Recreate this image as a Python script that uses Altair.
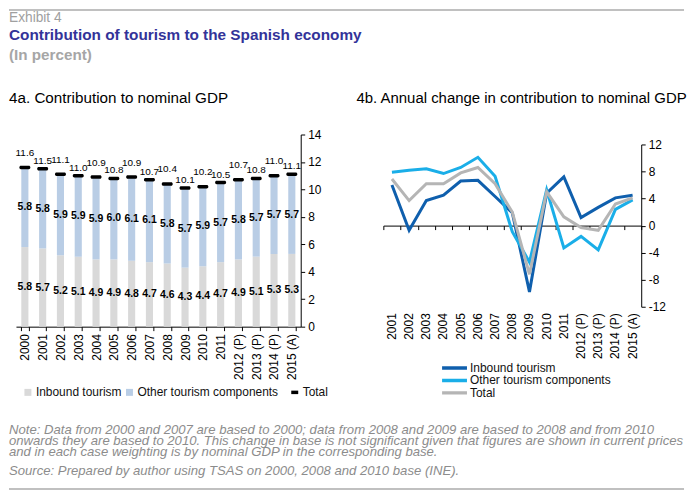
import altair as alt
import pandas as pd

FONT = "Liberation Sans"

# ---------------- data ----------------
years_bar = ["2000", "2001", "2002", "2003", "2004", "2005", "2006", "2007",
             "2008", "2009", "2010", "2011", "2012 (P)", "2013 (P)", "2014 (P)", "2015 (A)"]
inbound = [5.8, 5.7, 5.2, 5.1, 4.9, 4.9, 4.8, 4.7, 4.6, 4.3, 4.4, 4.7, 4.9, 5.1, 5.3, 5.3]
other = [5.8, 5.8, 5.9, 5.9, 5.9, 6.0, 6.1, 6.1, 5.8, 5.7, 5.9, 5.7, 5.8, 5.7, 5.7, 5.7]
total = [11.6, 11.5, 11.1, 11.0, 10.9, 10.8, 10.9, 10.7, 10.4, 10.1, 10.2, 10.5, 10.7, 10.8, 11.0, 11.1]

years_line = ["2001", "2002", "2003", "2004", "2005", "2006", "2007", "2008",
              "2009", "2010", "2011", "2012 (P)", "2013 (P)", "2014 (P)", "2015 (A)"]
inbound_chg = [6.0, -0.7, 3.7, 4.5, 6.6, 6.7, 4.3, 1.9, -9.8, 4.8, 7.2, 1.2, 2.7, 4.1, 4.5]
other_chg = [7.9, 8.2, 8.4, 7.7, 8.6, 10.1, 7.3, -0.9, -5.4, 5.3, -3.3, -1.6, -3.6, 2.4, 3.8]
total_chg = [6.9, 3.7, 6.2, 6.2, 7.8, 8.6, 6.2, 2.0, -7.2, 5.0, 1.3, -0.3, -0.7, 3.2, 4.1]

series_bar = ["Inbound tourism", "Other tourism components"]
series_line = ["Inbound tourism", "Other tourism components", "Total"]
bar_colors = ["#d9d9d9", "#b9cde5"]
line_colors = ["#0f5fad", "#1aaee8", "#b5b5b5"]

bar_ticks = [0, 2, 4, 6, 8, 10, 12, 14]
line_ticks = [-12, -8, -4, 0, 4, 8, 12]

title_lines = ["Exhibit 4", "Contribution of tourism to the Spanish economy", "(In percent)"]
panel_titles = ["4a. Contribution to nominal GDP", "4b. Annual change in contribution to nominal GDP"]
notes = [
    "Note: Data from 2000 and 2007 are based to 2000; data from 2008 and 2009 are based to 2008 and from 2010",
    "onwards they are based to 2010. This change in base is not significant given that figures are shown in current prices",
    "and in each case weighting is by nominal GDP in the corresponding base.",
]
source = "Source: Prepared by author using TSAS on 2000, 2008 and 2010 base (INE)."

# ---------------- tables ----------------
n = len(years_bar)
bar_long = pd.DataFrame({
    "yr": years_bar * 2,
    "series": [series_bar[0]] * n + [series_bar[1]] * n,
    "order": [0] * n + [1] * n,
    "pct": inbound + other,
})
tot_df = pd.DataFrame({"yr": years_bar, "total": total, "s": ["Total"] * n})

m = len(years_line)
line_long = pd.DataFrame({
    "period": years_line * 3,
    "component": [series_line[0]] * m + [series_line[1]] * m + [series_line[2]] * m,
    "chg": inbound_chg + other_chg + total_chg,
})
one = pd.DataFrame({"a": [0]})

# ---------------- bar panel ----------------
x_bar_scale = alt.Scale(type="band", paddingInner=0.6, paddingOuter=0.3)
x_bar_axis = alt.Axis(title=None, labelAngle=-90, labelFontSize=12, labelColor="#000",
                      tickBand="extent", tickSize=4, tickColor="#000", domainColor="#000",
                      labelPadding=3)
y_bar_scale = alt.Scale(domain=[0, 14], nice=False)
y_bar_axis = alt.Axis(orient="right", values=bar_ticks, title=None, grid=False,
                      tickSize=4, labelFontSize=12, labelColor="#000", domainColor="#000",
                      tickColor="#000", labelPadding=3, labelOverlap=False)


def xb():
    return alt.X("yr:N", sort=years_bar, scale=x_bar_scale, axis=x_bar_axis)


def yb(field, **kw):
    return alt.Y(field, scale=y_bar_scale, axis=y_bar_axis, **kw)


bars = alt.Chart(bar_long).mark_bar().encode(
    x=xb(),
    y=yb("pct:Q", stack="zero"),
    color=alt.Color("series:N", scale=alt.Scale(domain=series_bar, range=bar_colors),
                    legend=alt.Legend(orient="none", legendX=6, legendY=253, direction="horizontal",
                                      title=None, symbolType="square", symbolSize=49,
                                      symbolStrokeWidth=0, labelFontSize=12, labelColor="#111",
                                      labelOffset=2, columnPadding=1, padding=0)),
    order=alt.Order("order:Q"),
)

seg_labels = alt.Chart(bar_long).transform_stack(
    stack="pct", as_=["v0", "v1"], groupby=["yr"],
    sort=[alt.SortField("order", order="ascending")]
).transform_calculate(mid="(datum.v0 + datum.v1) / 2").mark_text(
    fontSize=10.5, fontWeight="bold", color="#000", font=FONT
).encode(
    x=xb(),
    y=yb("mid:Q"),
    text=alt.Text("pct:Q", format=".1f"),
)

tot_ticks = alt.Chart(tot_df).mark_tick(fill="black", thickness=3.5, size=11, cornerRadius=1.5,
                                         strokeWidth=0, opacity=1).encode(
    x=xb(),
    y=yb("total:Q"),
    stroke=alt.Stroke("s:N", scale=alt.Scale(domain=["Total"], range=["black"]),
                      legend=alt.Legend(orient="none", legendX=274, legendY=253, title=None,
                                        symbolType="stroke", symbolSize=49, symbolStrokeWidth=3.5,
                                        labelFontSize=12, labelColor="#111", labelOffset=2,
                                        padding=0)),
)


def tot_text(parity, dy):
    return alt.Chart(tot_df).transform_window(idx="row_number()").transform_filter(
        f"datum.idx % 2 == {parity}"
    ).mark_text(fontSize=10, color="#000", dy=dy, font=FONT).encode(
        x=xb(),
        y=yb("total:Q"),
        text=alt.Text("total:Q", format=".1f"),
    )


def txt(s, x, y, size, color, weight="normal", style="normal"):
    return alt.Chart(one).mark_text(text=s, align="left", baseline="alphabetic", fontSize=size,
                                    color=color, fontWeight=weight, fontStyle=style, font=FONT).encode(
        x=alt.value(x), y=alt.value(y))


def hrule(y):
    return alt.Chart(one).mark_rule(color="#c0c0c0", strokeWidth=2).encode(
        x=alt.value(-7), x2=alt.value(671), y=alt.value(y))


# header / footer texts, placed relative to the bar panel's plot origin
header_footer = [
    hrule(-125),
    txt(title_lines[0], -7, -113.3, 13.8, "#a0a0a0"),
    txt(title_lines[1], -7, -95, 15.4, "#333399", weight="bold"),
    txt(title_lines[2], -7, -74.7, 15.3, "#a6a6a6", weight="bold"),
    txt(panel_titles[0], -7, -31.7, 15.3, "#000"),
    txt(panel_titles[1], 342, -31.7, 15, "#000"),
    txt(notes[0], -7, 301, 13.2, "#8c8c8c", style="italic"),
    txt(notes[1], -7, 312, 13.2, "#8c8c8c", style="italic"),
    txt(notes[2], -7, 322.5, 13.2, "#8c8c8c", style="italic"),
    txt(source, -7, 342, 13.2, "#8c8c8c", style="italic"),
    hrule(356),
]

bar_panel = alt.layer(bars, seg_labels, tot_ticks, tot_text(1, -14.5), tot_text(0, -8),
                      *header_footer).properties(width=286, height=193)

# ---------------- line panel ----------------
x_line_scale = alt.Scale(type="band", paddingInner=0, paddingOuter=0)
y_line_scale = alt.Scale(domain=[-12, 12], nice=False, range=[173, 10])
y_line_axis = alt.Axis(orient="right", values=line_ticks, title=None, grid=False,
                       tickSize=4, labelFontSize=12, labelColor="#000", domainColor="#000",
                       tickColor="#000", labelPadding=3, labelOverlap=False,
                       labelExpr="toString(datum.value)")

lines = alt.Chart(line_long).mark_line(strokeWidth=3).encode(
    x=alt.X("period:N", sort=years_line, scale=x_line_scale, bandPosition=0.5,
            axis=alt.Axis(orient="bottom", offset=-16, ticks=False, domain=False, labelAngle=-90,
                          labelPadding=2, labelFontSize=12, labelColor="#000", title=None)),
    y=alt.Y("chg:Q", scale=y_line_scale, axis=y_line_axis),
    color=alt.Color("component:N", scale=alt.Scale(domain=series_line, range=line_colors),
                    legend=alt.Legend(orient="none", legendX=57, legendY=229, direction="vertical",
                                      title=None, symbolType="stroke", symbolSize=625,
                                      symbolStrokeWidth=3.5, clipHeight=11, rowPadding=-0.5,
                                      labelFontSize=12, labelColor="#111", labelOffset=1,
                                      padding=0)),
)

zero_axis = alt.Chart(line_long).mark_point(opacity=0).encode(
    x=alt.X("period:N", sort=years_line, scale=x_line_scale,
            axis=alt.Axis(orient="bottom", offset=-101.5, labels=False, ticks=True, tickBand="extent",
                          tickSize=4, domain=True, domainColor="#000", tickColor="#000", title=None)),
    y=alt.Y("chg:Q", scale=y_line_scale, axis=y_line_axis),
)

line_panel = alt.layer(zero_axis, lines).resolve_axis(x="independent").properties(width=259, height=193)

chart = alt.hconcat(bar_panel, line_panel, spacing=83, bounds="flush").resolve_scale(
    x="independent", y="independent", color="independent"
).properties(padding=0).configure(font=FONT).configure_view(stroke=None)

chart.save("out.html", embed_options={"renderer": "svg", "actions": False})
